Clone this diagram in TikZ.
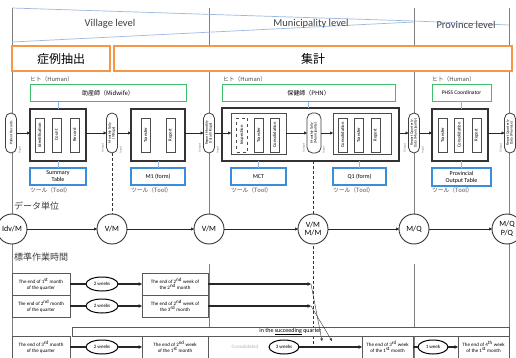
\documentclass[tikz,border=0pt]{standalone}
\usepackage{fontspec}
\usepackage{graphicx}
\setmainfont{Carlito}
\newfontfamily\jpfont{Noto Sans CJK JP}
\usetikzlibrary{arrows.meta,shapes.geometric}
\definecolor{orng}{HTML}{F79646}
\definecolor{grn}{HTML}{3DBE6A}
\definecolor{blu}{HTML}{3A8DDB}
\definecolor{lblu}{HTML}{8DB8E8}
\definecolor{hdrblue}{HTML}{9DB9DD}
\definecolor{divg}{HTML}{7F7F7F}
\newcommand\captext[2]{\rotatebox{90}{\begin{tabular}{@{}c@{}}#1\\#2\end{tabular}}}
\begin{document}
\begin{tikzpicture}[x=1pt,y=-1pt,
  every node/.style={inner sep=0pt, outer sep=0pt},
  divider/.style={draw=divg, line width=0.7pt},
  hdrline/.style={draw=hdrblue, line width=0.7pt},
  orangebox/.style={draw=orng, line width=1.3pt, fill=white, font=\jpfont\fontsize{12}{12}\selectfont},
  humanbox/.style={draw=grn, line width=1pt, fill=white, font=\jpfont\fontsize{6}{6.5}\selectfont},
  toolbox/.style={draw=blu, line width=1.1pt, fill=white, font=\fontsize{6}{7}\selectfont, align=center},
  procbox/.style={draw=black!80, line width=1.2pt, fill=white},
  grpbox/.style={draw=black!70, line width=0.6pt, fill=white},
  innerbox/.style={draw=black!70, line width=0.5pt, fill=white, minimum width=9, minimum height=34, font=\fontsize{4.6}{5}\selectfont},
  capsule/.style={draw=black!75, line width=0.8pt, rounded corners=5.5pt, fill=white, minimum width=11, minimum height=40, font=\fontsize{3.7}{3.9}\selectfont},
  smalllbl/.style={font=\jpfont\fontsize{5.8}{6}\selectfont, text=black!70, anchor=west},
  tinylbl/.style={font=\fontsize{3}{3}\selectfont, text=black!55},
  conn/.style={draw=lblu, line width=0.6pt},
  flow/.style={draw=black!85, line width=0.6pt, -{Triangle[length=3pt,width=3pt]}},
  dsh/.style={draw=black!80, line width=0.9pt, dash pattern=on 3pt off 2pt},
  unit/.style={circle, draw=black!80, line width=0.9pt, fill=white, minimum size=30, font=\fontsize{8}{8.5}\selectfont, align=center},
  tbox/.style={draw=black!65, line width=0.5pt, fill=white, align=center, font=\fontsize{5}{6}\selectfont},
  weeks/.style={ellipse, draw=black, line width=1pt, fill=white, minimum width=32, minimum height=14, font=\fontsize{5}{5.5}\selectfont},
  tline/.style={draw=black!85, line width=1.1pt},
  tflow/.style={draw=black!85, line width=1.1pt, -{Triangle[length=3.5pt,width=3.5pt]}},
  thinflow/.style={draw=black!80, line width=0.4pt, -{Triangle[length=2.5pt,width=2.5pt]}},
  sectlbl/.style={font=\jpfont\fontsize{9}{9}\selectfont, text=black!75, anchor=west},
  lvl/.style={font=\fontsize{10.5}{11}\selectfont, text=black!75}
]
\useasboundingbox (0,0) rectangle (516,358);
\fill[white] (0,0) rectangle (516,358);

% ---------- dividers ----------
\draw[divider] (12,8) -- (12,358);
\draw[divider] (209,8) -- (209,244);
\draw[divider] (209,264) -- (209,327);
\draw[divider] (414,8) -- (414,244);
\draw[divider] (414,264) -- (414,358);
\draw[divider] (509,8) -- (509,358);
\coordinate (ds1) at (313,161);
\coordinate (ds2) at (313,344);
\draw[dsh] (ds1) -- (ds2);

% ---------- header ----------
\draw[hdrline] (12,8) -- (414,21) -- (509,25);
\draw[hdrline] (12,42) -- (414,22);
\node[lvl] (lv1) at (110,24) {Village level};
\node[lvl] (lv2) at (311,24) {Municipality level};
\node[lvl] (lv3) at (466,25) {Province level};
\node[orangebox, minimum width=98, minimum height=25] (o1) at (61,58.5) {症例抽出};
\node[orangebox, minimum width=398, minimum height=25] (o2) at (313,58.5) {集計};

% ---------- village ----------
\node[smalllbl] (hl1) at (30,79) {ヒト（Human）};
\node[humanbox, minimum width=156, minimum height=17] (hv) at (108,93.5) {助産師（Midwife）};
\node[procbox, minimum width=56, minimum height=52] (pv1) at (58,135) {};
\node[innerbox] (iv1) at (39.5,135) {\rotatebox{90}{Identification}};
\node[innerbox] (iv2) at (56.5,135) {\rotatebox{90}{Count}};
\node[innerbox] (iv3) at (74.5,135) {\rotatebox{90}{Record}};
\node[procbox, minimum width=54, minimum height=52] (pv2) at (158,135) {};
\node[innerbox] (iv4) at (145.5,135) {\rotatebox{90}{Transfer}};
\node[innerbox] (iv5) at (170.5,135) {\rotatebox{90}{Report}};
\node[toolbox, minimum width=56, minimum height=17] (tv1) at (58,176.5) {Summary\\Table};
\node[toolbox, minimum width=54, minimum height=17] (tv2) at (158,176.5) {M1 (form)};
\node[smalllbl] (tl1) at (30,190) {ツール（Tool）};
\node[smalllbl] (tl2) at (131,190) {ツール（Tool）};
\draw[conn] (hv.south -| pv1.north) -- (pv1.north);
\draw[conn] (pv1.south) -- (tv1.north);
\draw[conn] (pv2.south) -- (tv2.north);

% ---------- municipality ----------
\node[smalllbl] (hl2) at (223,79) {ヒト（Human）};
\node[humanbox, minimum width=173, minimum height=17] (hm) at (308.5,93.5) {保健師（PHN）};
\node[procbox, minimum width=177, minimum height=53] (pm) at (310.5,134.5) {};
\node[grpbox, minimum width=55, minimum height=41] (g1) at (258.5,133.5) {};
\node[innerbox, dashed, minimum width=11] (im1) at (242,135) {\rotatebox{90}{Inspection}};
\node[innerbox] (im2) at (258.5,135) {\rotatebox{90}{Transfer}};
\node[innerbox] (im3) at (274.5,135) {\rotatebox{90}{Consolidation}};
\node[grpbox, minimum width=58, minimum height=41] (g2) at (362,133.5) {};
\node[innerbox] (im4) at (342.5,135) {\rotatebox{90}{Consolidation}};
\node[innerbox] (im5) at (358.5,135) {\rotatebox{90}{Transfer}};
\node[innerbox] (im6) at (375.5,135) {\rotatebox{90}{Report}};
\node[toolbox, minimum width=55, minimum height=17] (tm1) at (258.5,176.5) {MCT};
\node[toolbox, minimum width=53, minimum height=17] (tm2) at (359.5,176.5) {Q1 (form)};
\node[smalllbl] (tl3) at (231,190) {ツール（Tool）};
\node[smalllbl] (tl4) at (333,190) {ツール（Tool）};
\draw[conn] (hm.south) -- (hm.south |- pm.north);
\draw[conn] (pm.south -| tm1.north) -- (tm1.north);
\draw[conn] (pm.south -| tm2.north) -- (tm2.north);

% ---------- province ----------
\node[smalllbl] (hl3) at (432,79) {ヒト（Human）};
\node[humanbox, font=\fontsize{5.5}{6}\selectfont, minimum width=59, minimum height=17] (hp) at (461.5,93) {PHSS Coordinator};
\node[procbox, minimum width=56, minimum height=52] (pp) at (460,135) {};
\node[innerbox] (ip1) at (442.5,135) {\rotatebox{90}{Transfer}};
\node[innerbox] (ip2) at (459,135) {\rotatebox{90}{Consolidation}};
\node[innerbox] (ip3) at (476.5,135) {\rotatebox{90}{Report}};
\node[toolbox, minimum width=59, minimum height=18] (tp) at (461.5,177) {Provincial\\Output Table};
\node[smalllbl] (tl5) at (432,190) {ツール（Tool）};
\draw[conn] (hp.south) -- (hp.south |- pp.north);
\draw[conn] (pp.south -| tp.north) -- (tp.north);

% ---------- capsules ----------
\node[capsule] (c0) at (11,133) {\rotatebox{90}{Patient Records}};
\node[capsule] (c1) at (112,133) {\captext{Monthly Tally}{(Village)}};
\node[capsule] (c2) at (209,133) {\captext{Report Monthly}{Data (Village)}};
\node[capsule, minimum width=14] (cm) at (314,133) {\captext{Monthly Tally}{(Municipality)}};
\node[capsule] (c3) at (414,133) {\captext{Report Quarterly}{Data (Municipality)}};
\node[capsule] (c4) at (510,133) {\captext{Report Quarterly}{Data (Province)}};
\node[tinylbl, rotate=90] (in0) at (20,150) {Input};
\node[tinylbl, rotate=90] (ou1) at (103,148) {Output};
\node[tinylbl, rotate=90] (in1) at (121,150) {Input};
\node[tinylbl, rotate=90] (ou2) at (200,148) {Output};
\node[tinylbl, rotate=90] (in2) at (218,150) {Input};
\node[tinylbl, rotate=90] (ou3) at (304,148) {Output};
\node[tinylbl, rotate=90] (in3) at (324,150) {Input};
\node[tinylbl, rotate=90] (ou4) at (405,148) {Output};
\node[tinylbl, rotate=90] (in4) at (423,150) {Input};
\node[tinylbl, rotate=90] (ou5) at (501,148) {Output};

\draw[flow] (c0.east) -- (c0.east -| pv1.west);
\draw[flow] (pv1.east |- c1.west) -- (c1.west);
\draw[flow] (c1.east) -- (c1.east -| pv2.west);
\draw[flow] (pv2.east |- c2.west) -- (c2.west);
\draw[flow] (c2.east) -- (c2.east -| g1.west);
\draw[flow] (g1.east |- cm.west) -- (cm.west);
\draw[flow] (cm.east) -- (cm.east -| g2.west);
\draw[flow] (pm.east |- c3.west) -- (c3.west);
\draw[flow] (c3.east) -- (c3.east -| pp.west);
\draw[flow] (pp.east |- c4.west) -- (c4.west);

% ---------- data units ----------
\node[sectlbl] (du) at (14,206) {データ単位};
\node[unit] (d0) at (12,229) {Idv/M};
\node[unit] (d1) at (112,229) {V/M};
\node[unit] (d2) at (209,229) {V/M};
\node[unit] (d3) at (313,229) {V/M\\M/M};
\node[unit] (d4) at (414,229) {M/Q};
\node[unit] (d5) at (507,229) {M/Q\\P/Q};
\draw[dsh] (c1.south) -- (d1.north);
\draw[flow] (d0) -- (d1);
\draw[flow] (d1) -- (d2);
\draw[flow] (d2) -- (d3);
\draw[flow] (d3) -- (d4);
\draw[flow] (d4) -- (d5);

% ---------- standard work time ----------
\node[sectlbl] (st) at (14,257) {標準作業時間};
\node[tbox, minimum width=58, minimum height=22] (r11) at (41,284) {The end of 1\textsuperscript{st} month\\of the quarter};
\node[weeks] (r12) at (102,284) {2 weeks};
\node[tbox, minimum width=66, minimum height=22] (r13) at (175,284) {The end of 2\textsuperscript{nd} week of\\the 2\textsuperscript{nd} month};
\node[tbox, minimum width=58, minimum height=22] (r21) at (41,306) {The end of 2\textsuperscript{nd} month\\of the quarter};
\node[weeks] (r22) at (102,306) {2 weeks};
\node[tbox, minimum width=66, minimum height=22] (r23) at (175,306) {The end of 2\textsuperscript{nd} week of\\the 3\textsuperscript{rd} month};
\coordinate (e1) at (311,284);
\coordinate (e2) at (311,306);
\coordinate (f1) at (322,341);
\coordinate (f2) at (332,341);
\draw[tline] (r11.east) -- (r12.west);
\draw[tflow] (r12.east) -- (r13.west);
\draw[tflow] (r13.east) -- (e1);
\draw[tline] (r21.east) -- (r22.west);
\draw[tflow] (r22.east) -- (r23.west);
\draw[tflow] (r23.east) -- (e2);

\node[tbox, minimum width=437, minimum height=9, font=\fontsize{6}{6.5}\selectfont] (bar) at (290.5,331.5) {in the \underline{succeeding} quarter};

\node[tbox, minimum width=58, minimum height=22] (r31) at (41,347) {The end of 3\textsuperscript{rd} month\\of the quarter};
\node[weeks] (r32) at (102,347) {2 weeks};
\node[tbox, minimum width=66, minimum height=22] (r33) at (175,347) {The end of 2\textsuperscript{nd} week\\of the 1\textsuperscript{st} month};
\node[font=\fontsize{5}{5}\selectfont, text=black!30] (wm) at (245,347) {Consolidated};
\node[weeks, minimum width=30] (r34) at (284,347) {3 weeks};
\node[tbox, minimum width=51, minimum height=22] (r35) at (387.5,347) {The end of 3\textsuperscript{rd} week\\of the 1\textsuperscript{st} month};
\node[weeks, minimum width=30] (r36) at (433,347) {1 week};
\node[tbox, minimum width=51, minimum height=22] (r37) at (483.5,347) {The end of 4\textsuperscript{th} week\\of the 1\textsuperscript{st} month};
\draw[tline] (r31.east) -- (r32.west);
\draw[tflow] (r32.east) -- (r33.west);
\draw[tflow] (r34.east) -- (r35.west);
\draw[tline] (r35.east) -- (r36.west);
\draw[tflow] (r36.east) -- (r37.west);
\draw[thinflow] (e1) -- (f1);
\draw[thinflow] (e2) -- (f2);
\end{tikzpicture}
\end{document}
